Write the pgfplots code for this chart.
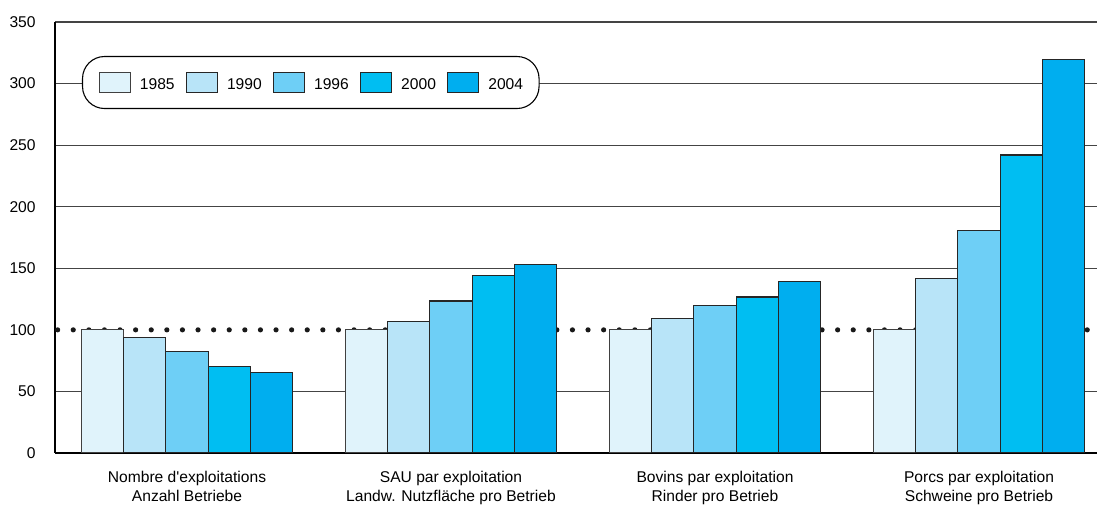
\documentclass[border=0pt]{standalone}
\usepackage{fontspec}
\setmainfont{Liberation Sans}[Ligatures=TeXOff]
\usepackage{pgfplots}
\pgfplotsset{compat=1.18}
\definecolor{cA}{HTML}{E0F3FB}
\definecolor{cB}{HTML}{B8E4F8}
\definecolor{cC}{HTML}{6ECFF6}
\definecolor{cD}{HTML}{00BEF2}
\definecolor{cE}{HTML}{00AEEF}
\definecolor{gridc}{HTML}{444444}
\begin{document}
\begin{tikzpicture}
\begin{axis}[
  at={(0,0)}, anchor=south west,
  scale only axis, width=521pt, height=215.5pt,
  xmin=-0.5, xmax=3.447, ymin=0, ymax=350,
  axis lines*=left,
  axis line style={-, black, line width=0.9pt},
  major tick length=0pt,
  ybar=0pt, bar width=0.16,
  ytick={0,50,150,200,250,300,350},
  extra y ticks={100}, extra y tick style={grid=none},
  ymajorgrids, grid style={gridc, line width=0.55pt},
  xtick={0,1,2,3},
  xticklabels={{Nombre d'exploitations\\Anzahl Betriebe},{SAU par exploitation\\Landw. Nutzfläche pro Betrieb},{Bovins par exploitation\\Rinder pro Betrieb},{Porcs par exploitation\\Schweine pro Betrieb}},
  xticklabel style={align=center, anchor=north, inner sep=0pt, yshift=-9pt, font=\fontsize{7.8}{9.5}\selectfont},
  yticklabel style={anchor=east, inner sep=0pt, xshift=-9.5pt, font=\fontsize{7.8}{9.5}\selectfont},
  /pgf/number format/assume math mode=true,
  legend image code/.code={\draw[#1, sharp corners, line width=0.5pt] (0pt,-3.45pt) rectangle (15.5pt,6.55pt);},
  legend style={at={(axis description cs:0.0259,0.8596)}, anchor=west, draw=black, line width=0.55pt,
    rounded corners=11pt, fill=white, inner xsep=8pt, inner ysep=7.75pt,
    font=\fontsize{7.8}{9.5}\selectfont, nodes={inner sep=0pt},
    /tikz/every even column/.append style={column sep=5.5pt},
    /tikz/every odd column/.append style={column sep=4.7pt}},
  legend columns=5,
  legend cell align=left,
]
\addplot[sharp plot, forget plot, black!90, line width=2.6pt, line cap=round, dash pattern=on 0pt off 7.8pt]
  coordinates {(-0.49,100) (3.447,100)};
\addplot[fill=cA, draw=black!75, line width=0.55pt, bar shift=-0.32] coordinates {(0,100) (1,100) (2,100) (3,100)};
\addlegendentry{1985}
\addplot[fill=cB, draw=black!85, line width=0.55pt, bar shift=-0.16] coordinates {(0,93.7) (1,106.7) (2,109.4) (3,141.9)};
\addlegendentry{1990}
\addplot[fill=cC, draw=black!85, line width=0.55pt, bar shift=0] coordinates {(0,82.3) (1,123.4) (2,120) (3,181)};
\addlegendentry{1996}
\addplot[fill=cD, draw=black!85, line width=0.55pt, bar shift=0.16] coordinates {(0,69.9) (1,143.8) (2,126.7) (3,242)};
\addlegendentry{2000}
\addplot[fill=cE, draw=black!85, line width=0.55pt, bar shift=0.32] coordinates {(0,65.2) (1,153) (2,139.4) (3,319.5)};
\addlegendentry{2004}
\end{axis}
\pgfresetboundingbox
\path (-27.5pt,-27.5pt) rectangle (521pt,226.5pt);
\end{tikzpicture}
\end{document}
